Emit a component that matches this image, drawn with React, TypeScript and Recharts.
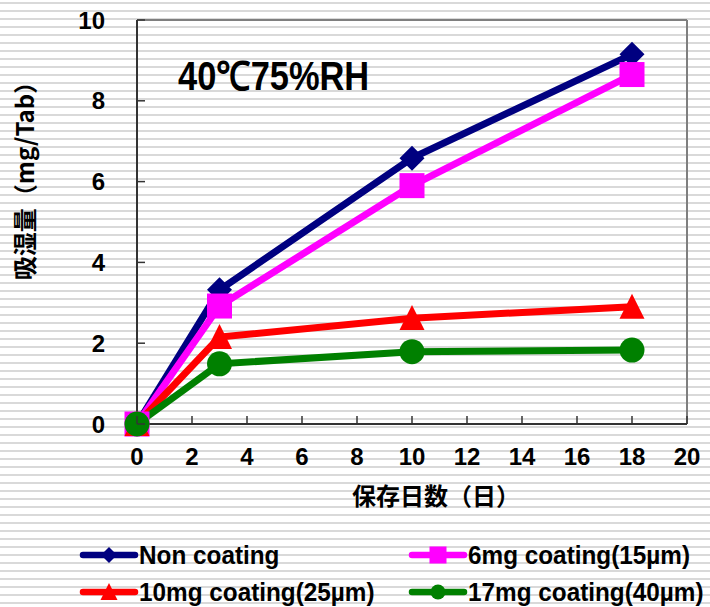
import { LineChart, Line, XAxis, YAxis, ReferenceLine } from "recharts";

const days = [0, 3, 10, 18];
const nonCoating = [0, 3.32, 6.58, 9.15];
const coating6mg = [0, 2.92, 5.9, 8.65];
const coating10mg = [0, 2.15, 2.62, 2.9];
const coating17mg = [0, 1.49, 1.79, 1.83];
const xTicks = [0, 2, 4, 6, 8, 10, 12, 14, 16, 18, 20];
const yTicks = [0, 2, 4, 6, 8, 10];

const data = days.map((d, i) => ({
  day: d,
  non: nonCoating[i],
  c6: coating6mg[i],
  c10: coating10mg[i],
  c17: coating17mg[i],
}));

const series = [
  { key: "non", name: "Non coating", color: "#000080", shape: "diamond" },
  { key: "c6", name: "6mg coating(15µm)", color: "#ff00ff", shape: "square" },
  { key: "c10", name: "10mg coating(25µm)", color: "#ff0000", shape: "triangle" },
  { key: "c17", name: "17mg coating(40µm)", color: "#008000", shape: "circle" },
];

const Marker = ({ cx, cy, shape, color, s }: any) => {
  if (cx == null || cy == null) return null;
  if (shape === "diamond")
    return (
      <polygon
        points={`${cx},${cy - s} ${cx + s},${cy} ${cx},${cy + s} ${cx - s},${cy}`}
        fill={color}
      />
    );
  if (shape === "square")
    return <rect x={cx - s} y={cy - s} width={s * 2} height={s * 2} fill={color} />;
  if (shape === "triangle")
    return (
      <polygon
        points={`${cx},${cy - s * 1.05} ${cx + s},${cy + s * 0.95} ${cx - s},${cy + s * 0.95}`}
        fill={color}
      />
    );
  return <circle cx={cx} cy={cy} r={s} fill={color} />;
};

const tickFont = {
  fontFamily: "'Liberation Sans', Arial, sans-serif",
  fontWeight: "bold" as const,
  fontSize: 24,
  fill: "#000",
};

const YTick = ({ x, y, payload }: any) => (
  <g>
    <line x1={x} y1={y} x2={x + 8} y2={y} stroke="#333" strokeWidth={1.5} />
    <text x={x - 32} y={y} dy="0.36em" textAnchor="end" {...tickFont}>
      {payload.value}
    </text>
  </g>
);

const XTick = ({ x, y, payload }: any) => (
  <g>
    <line x1={x} y1={y} x2={x} y2={y - 8} stroke="#333" strokeWidth={1.5} />
    <text x={x} y={y + 41} textAnchor="middle" {...tickFont}>
      {payload.value}
    </text>
  </g>
);

const LegendIcon = ({ color, shape }: any) => (
  <svg width={60} height={20} style={{ display: "block" }}>
    <line x1={4} y1={10} x2={56} y2={10} stroke={color} strokeWidth={6.5} strokeLinecap="round" />
    <Marker cx={30} cy={10} shape={shape} color={color} s={shape === "circle" ? 7.5 : shape === "diamond" ? 8 : 8.5} />
  </svg>
);

export default function App() {
  const legendPos = [
    { left: 79, top: 545 },
    { left: 408, top: 545 },
    { left: 79, top: 582 },
    { left: 408, top: 582 },
  ];
  return (
    <div
      style={{
        position: "relative",
        width: 710,
        height: 607,
        backgroundColor: "#fff",
        backgroundImage:
          "repeating-linear-gradient(to bottom, #fff 0px, #fff 2px, #d9d9d9 2px, #d9d9d9 4px, #fff 4px, #fff 8px)",
        overflow: "hidden",
      }}
    >
      <style>{"body{margin:0}"}</style>
      <LineChart
        width={710}
        height={607}
        data={data}
        margin={{ top: 20, right: 23, left: 0, bottom: 0 }}
        style={{ position: "absolute", left: 0, top: 0 }}
      >
        <XAxis
          dataKey="day"
          type="number"
          domain={[0, 20]}
          ticks={xTicks}
          height={183}
          tickSize={0}
          tickMargin={0}
          tickLine={false}
          axisLine={{ stroke: "#333", strokeWidth: 2 }}
          tick={<XTick />}
          interval={0}
        />
        <YAxis
          type="number"
          domain={[0, 10]}
          ticks={yTicks}
          width={137}
          tickSize={0}
          tickMargin={0}
          tickLine={false}
          axisLine={{ stroke: "#333", strokeWidth: 2 }}
          tick={<YTick />}
          interval={0}
        />
        <ReferenceLine y={10} stroke="#7f7f7f" strokeWidth={2} />
        <ReferenceLine x={20} stroke="#7f7f7f" strokeWidth={2} />
        {series.map((s) => (
          <Line
            key={s.key}
            dataKey={s.key}
            name={s.name}
            type="linear"
            stroke={s.color}
            strokeWidth={7}
            isAnimationActive={false}
            dot={(p: any) => (
              <Marker key={`${s.key}-${p.index}`} cx={p.cx} cy={p.cy} shape={s.shape} color={s.color} s={12.5} />
            )}
            activeDot={false}
          />
        ))}
      </LineChart>

      <div
        style={{
          position: "absolute",
          left: 178,
          top: 54,
          fontFamily: "'Liberation Sans', Arial, sans-serif",
          fontWeight: "bold",
          fontSize: 40,
          lineHeight: "44px",
          transform: "scaleX(0.86)",
          transformOrigin: "left top",
          whiteSpace: "nowrap",
          color: "#000",
        }}
      >
        40℃75%RH
      </div>

      <div
        style={{
          position: "absolute",
          left: 436,
          top: 480,
          transform: "translateX(-50%)",
          fontFamily: "'Noto Sans CJK JP', sans-serif",
          fontWeight: "bold",
          fontSize: 24,
          lineHeight: "30px",
          whiteSpace: "nowrap",
          color: "#000",
        }}
      >
        保存日数（日）
      </div>

      <div
        style={{
          position: "absolute",
          left: 24,
          top: 175,
          transform: "translate(-50%, -50%) rotate(-90deg)",
          fontFamily: "'Noto Sans CJK JP', sans-serif",
          fontWeight: "bold",
          fontSize: 24,
          lineHeight: "30px",
          whiteSpace: "nowrap",
          color: "#000",
        }}
      >
        吸湿量（mg/Tab）
      </div>

      {series.map((s, i) => (
        <div
          key={s.key}
          style={{
            position: "absolute",
            left: legendPos[i].left,
            top: legendPos[i].top,
            display: "flex",
            alignItems: "center",
            height: 20,
          }}
        >
          <LegendIcon color={s.color} shape={s.shape} />
          <span
            style={{
              fontFamily: "'Liberation Sans', Arial, sans-serif",
              fontWeight: "bold",
              fontSize: 26,
              lineHeight: "20px",
              display: "inline-block",
              transform: "scaleX(0.935)",
              transformOrigin: "left center",
              whiteSpace: "nowrap",
              color: "#000",
            }}
          >
            {s.name}
          </span>
        </div>
      ))}
    </div>
  );
}
